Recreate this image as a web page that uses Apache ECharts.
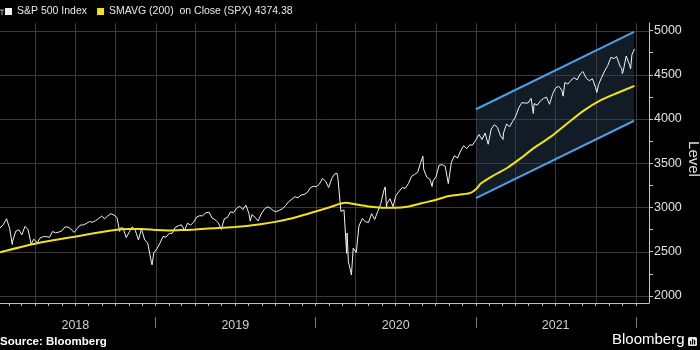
<!DOCTYPE html>
<html><head><meta charset="utf-8">
<script src="https://cdn.jsdelivr.net/npm/echarts@6/dist/echarts.min.js"></script>
<style>html,body{margin:0;padding:0;background:#000;}#c{width:700px;height:350px;}</style>
</head><body><div id="c"></div>
<script>
// ---------- data ----------
const spxDates = [
'2018-01-11','2018-01-12','2018-01-19','2018-01-26','2018-02-02','2018-02-08','2018-02-09','2018-02-16','2018-02-23','2018-03-02','2018-03-09','2018-03-16','2018-03-23','2018-03-29','2018-04-06','2018-04-13','2018-04-20','2018-04-27','2018-05-04','2018-05-11','2018-05-18','2018-05-25','2018-06-01','2018-06-08','2018-06-15','2018-06-22','2018-06-29','2018-07-06','2018-07-13','2018-07-20','2018-07-27','2018-08-03','2018-08-10','2018-08-17','2018-08-24','2018-08-31','2018-09-07','2018-09-14','2018-09-21','2018-09-28','2018-10-05','2018-10-11','2018-10-12','2018-10-19','2018-10-26','2018-11-02','2018-11-09','2018-11-16','2018-11-23','2018-11-30','2018-12-07','2018-12-14','2018-12-21','2018-12-24','2018-12-28',
'2019-01-04','2019-01-11','2019-01-18','2019-01-25','2019-02-01','2019-02-08','2019-02-15','2019-02-22','2019-03-01','2019-03-08','2019-03-15','2019-03-22','2019-03-29','2019-04-05','2019-04-12','2019-04-18','2019-04-26','2019-05-03','2019-05-10','2019-05-17','2019-05-24','2019-05-31','2019-06-07','2019-06-14','2019-06-21','2019-06-28','2019-07-05','2019-07-12','2019-07-19','2019-07-26','2019-08-02','2019-08-05','2019-08-09','2019-08-16','2019-08-23','2019-08-30','2019-09-06','2019-09-13','2019-09-20','2019-09-27','2019-10-04','2019-10-11','2019-10-18','2019-10-25','2019-11-01','2019-11-08','2019-11-15','2019-11-22','2019-11-29','2019-12-06','2019-12-13','2019-12-20','2019-12-27',
'2020-01-03','2020-01-10','2020-01-17','2020-01-24','2020-01-31','2020-02-07','2020-02-14','2020-02-19','2020-02-21','2020-02-28','2020-03-06','2020-03-12','2020-03-13','2020-03-16','2020-03-20','2020-03-23','2020-03-27','2020-04-03','2020-04-09','2020-04-17','2020-04-24','2020-05-01','2020-05-08','2020-05-15','2020-05-22','2020-05-29','2020-06-05','2020-06-08','2020-06-11','2020-06-12','2020-06-19','2020-06-26','2020-07-02','2020-07-10','2020-07-17','2020-07-24','2020-07-31','2020-08-07','2020-08-14','2020-08-21','2020-08-28','2020-09-02','2020-09-04','2020-09-11','2020-09-18','2020-09-23','2020-09-25','2020-10-02','2020-10-09','2020-10-16','2020-10-23','2020-10-30','2020-11-06','2020-11-13','2020-11-20','2020-11-27','2020-12-04','2020-12-11','2020-12-18','2020-12-24','2020-12-31',
'2021-01-08','2021-01-15','2021-01-22','2021-01-29','2021-02-05','2021-02-12','2021-02-19','2021-02-26','2021-03-04','2021-03-05','2021-03-12','2021-03-19','2021-03-26','2021-04-01','2021-04-09','2021-04-16','2021-04-23','2021-04-30','2021-05-07','2021-05-12','2021-05-14','2021-05-21','2021-05-28','2021-06-04','2021-06-11','2021-06-18','2021-06-25','2021-07-02','2021-07-09','2021-07-16','2021-07-19','2021-07-23','2021-07-30','2021-08-06','2021-08-13','2021-08-20','2021-08-27','2021-09-02','2021-09-10','2021-09-17','2021-09-24','2021-10-01','2021-10-04','2021-10-08','2021-10-15','2021-10-22','2021-10-29','2021-11-05','2021-11-12','2021-11-18','2021-11-26','2021-11-30','2021-12-01','2021-12-03','2021-12-10','2021-12-17','2021-12-20','2021-12-23','2021-12-29'
];
const spxValues = [
2767,2786,2810,2873,2762,2581,2620,2732,2747,2691,2786,2752,2588,2641,2604,2656,2670,2670,2663,2728,2713,2721,2735,2779,2780,2755,2718,2760,2801,2802,2819,2840,2833,2850,2875,2902,2872,2905,2930,2914,2885,2729,2767,2768,2658,2723,2781,2736,2633,2760,2633,2600,2417,2351,2486,
2532,2596,2671,2665,2707,2708,2776,2793,2804,2743,2822,2800,2834,2893,2907,2905,2940,2946,2881,2860,2826,2752,2873,2887,2950,2942,2990,3014,2977,3026,2932,2845,2919,2889,2847,2926,2979,3007,2992,2962,2952,2970,2986,3023,3067,3093,3120,3110,3141,3146,3169,3221,3240,
3235,3265,3330,3295,3226,3328,3380,3386,3338,2954,2972,2481,2711,2386,2305,2237,2541,2489,2790,2875,2837,2831,2930,2864,2955,3044,3194,3232,3002,3041,3098,3009,3130,3185,3225,3216,3271,3351,3373,3397,3508,3580,3427,3341,3319,3237,3298,3348,3477,3484,3465,3270,3510,3585,3558,3638,3699,3663,3709,3703,3756,
3825,3768,3841,3714,3887,3934,3907,3811,3768,3842,3943,3913,3975,4020,4129,4185,4180,4181,4233,4063,4174,4156,4204,4230,4247,4166,4281,4352,4370,4327,4258,4412,4395,4437,4468,4442,4509,4537,4459,4433,4455,4357,4300,4391,4471,4545,4605,4697,4683,4705,4595,4567,4513,4538,4712,4620,4568,4726,4793
];
const smaDates = ['2018-01-11','2018-04-01','2018-07-01','2018-10-01','2018-11-01','2018-12-01','2019-01-01','2019-02-01','2019-03-01','2019-04-01','2019-05-01','2019-06-01','2019-07-01','2019-08-01','2019-09-01','2019-10-01','2019-11-01','2019-12-01','2020-01-01','2020-02-01','2020-03-10','2020-04-01','2020-05-01','2020-06-01','2020-07-01','2020-08-01','2020-09-01','2020-10-01','2020-11-01','2020-12-01','2020-12-20','2021-01-01','2021-01-13','2021-02-12','2021-03-14','2021-04-13','2021-05-12','2021-06-21','2021-07-29','2021-09-04','2021-10-13','2021-11-21','2021-12-29'];
const smaValues = [2493,2590,2670,2745,2756,2757,2745,2740,2744,2752,2762,2770,2780,2792,2812,2837,2870,2910,2955,3000,3052,3035,3012,2998,2996,3012,3050,3085,3130,3148,3165,3205,3273,3367,3449,3555,3668,3800,3951,4095,4214,4297,4374];
const channelDates = ['2021-01-01','2021-12-28'];
const channelUpper = [4110, 4985];
const channelLower = [3105, 3980];
const yTickValues = [2000,2250,2500,2750,3000,3250,3500,3750,4000,4250,4500,4750,5000];
const yLabelValues = [2000,2500,3000,3500,4000,4500,5000];
const yearLabels = ['2018','2019','2020','2021'];
const yearMidDates = ['2018-07-02','2019-07-02','2020-07-02','2021-07-02'];
const yearStartDates = ['2019-01-01','2020-01-01','2021-01-01','2022-01-01'];
const quarterDates = ['2018-04-01','2018-07-01','2018-10-01','2019-01-01','2019-04-01','2019-07-01','2019-10-01','2020-01-01','2020-04-01','2020-07-01','2020-10-01','2021-01-01','2021-04-01','2021-07-01','2021-10-01','2022-01-01'];
const seriesNames = ['S&P 500 Index', 'SMAVG (200)  on Close (SPX) 4374.38'];
const axisTitle = 'Level';
const axisStart = '2018-01-11', axisEnd = '2022-01-31';
const yMin = 1920, yMax = 5085;

// ---------- helpers ----------
const T = s => new Date(s + 'T00:00:00').getTime();
const monthTicks = [];
for (let y = 2018; y <= 2022; y++) for (let m = 1; m <= 12; m++) {
  const t = T(y + '-' + String(m).padStart(2,'0') + '-01');
  if (t > T(axisStart) && t < T(axisEnd)) monthTicks.push(t);
}
const yearMidT = yearMidDates.map(T);
const FONT = '"Liberation Sans", Arial, sans-serif';
const GRID_STYLE = {stroke: '#3a3a3a', lineWidth: 1, fill: null};

const chart = echarts.init(document.getElementById('c'), null, {renderer:'canvas'});
chart.setOption({
  backgroundColor: '#000',
  animation: false,
  grid: {left: 0, right: 51, top: 23, bottom: 47, containLabel: false, outerBoundsMode: 'none'},
  legend: {
    left: 5, top: 6, padding: 0, itemWidth: 7, itemHeight: 7, itemGap: 10, icon: 'rect',
    textStyle: {color: '#e8e8e8', fontSize: 10.5, fontFamily: FONT},
    data: seriesNames
  },
  xAxis: [{
    type: 'value', min: T(axisStart), max: T(axisEnd), position: 'bottom',
    axisLine: {show: true, onZero: false, lineStyle: {color: '#c0c0c0', width: 1}},
    axisTick: {show: true, length: 3, customValues: monthTicks, lineStyle: {color: '#c0c0c0'}},
    axisLabel: {show: false},
    splitLine: {show: false}
  }, {
    type: 'value', min: T(axisStart), max: T(axisEnd), position: 'bottom', offset: 14,
    axisLine: {show: false, onZero: false},
    axisTick: {show: true, length: 11, customValues: yearStartDates.map(T), lineStyle: {color: '#777'}},
    axisLabel: {show: true, customValues: yearMidT, margin: 2, color: '#cfcfcf', fontSize: 12.5, fontFamily: FONT,
      formatter: v => { const i = yearMidT.indexOf(v); return i >= 0 ? yearLabels[i] : ''; }},
    splitLine: {show: false}
  }],
  yAxis: {
    type: 'value', position: 'right', min: yMin, max: yMax,
    axisLine: {show: true, onZero: false, lineStyle: {color: '#c8c8c8'}},
    axisTick: {show: true, length: 4, customValues: yTickValues, lineStyle: {color: '#c8c8c8'}},
    axisLabel: {customValues: yLabelValues, margin: 5, color: '#e0e0e0', fontSize: 12.5, fontFamily: FONT,
      formatter: v => String(v)},
    splitLine: {show: false}
  },
  series: [
    {
      name: 'hgrid', type: 'custom', z: 2, silent: true,
      data: yLabelValues.map(v => [T(axisStart), v]),
      renderItem: (params, api) => {
        const cs = params.coordSys;
        const y = Math.round(api.coord([api.value(0), api.value(1)])[1]) + 0.5;
        return {type: 'line', shape: {x1: cs.x, y1: y, x2: cs.x + cs.width, y2: y}, style: GRID_STYLE};
      }
    },
    {
      name: 'vgrid', type: 'custom', z: 2, silent: true,
      data: quarterDates.map(d => [T(d), yLabelValues[0]]),
      renderItem: (params, api) => {
        const cs = params.coordSys;
        const x = Math.round(api.coord([api.value(0), api.value(1)])[0]) + 0.5;
        return {type: 'line', shape: {x1: x, y1: cs.y, x2: x, y2: cs.y + cs.height}, style: GRID_STYLE};
      }
    },
    {
      name: 'channel', type: 'custom', z: 1, silent: true,
      data: [[T(channelDates[0]), channelLower[0]]],
      renderItem: (params, api) => {
        const pts = [
          api.coord([T(channelDates[0]), channelUpper[0]]),
          api.coord([T(channelDates[1]), channelUpper[1]]),
          api.coord([T(channelDates[1]), channelLower[1]]),
          api.coord([T(channelDates[0]), channelLower[0]])
        ];
        return {type: 'polygon', shape: {points: pts}, style: {fill: '#121c26'}};
      }
    },
    {
      name: 'upper', type: 'line', z: 3, symbol: 'none', silent: true,
      data: channelDates.map((d,i) => [T(d), channelUpper[i]]),
      lineStyle: {color: '#4f9fe6', width: 2}
    },
    {
      name: 'lower', type: 'line', z: 3, symbol: 'none', silent: true,
      data: channelDates.map((d,i) => [T(d), channelLower[i]]),
      lineStyle: {color: '#4f9fe6', width: 2}
    },
    {
      name: seriesNames[0], type: 'line', z: 4, symbol: 'none', color: '#f2f2f2',
      data: spxDates.map((d,i) => [T(d), spxValues[i]]),
      lineStyle: {color: '#f2f2f2', width: 1}
    },
    {
      name: seriesNames[1], type: 'line', z: 5, symbol: 'none', color: '#f2e21c', smooth: 0.3,
      data: smaDates.map((d,i) => [T(d), smaValues[i]]),
      lineStyle: {color: '#f2e21c', width: 2}
    }
  ],
  graphic: [
    {type: 'polyline', shape: {points: [[0,10],[4,10]]}, style: {stroke: '#aaa', lineWidth: 1}},
    {type: 'polyline', shape: {points: [[2,10],[2,15]]}, style: {stroke: '#aaa', lineWidth: 1}},
    {type: 'text', x: 693, y: 159, rotation: -Math.PI / 2,
      style: {text: axisTitle, fill: '#e0e0e0', font: '15px ' + FONT, align: 'center', verticalAlign: 'middle'}},
    {type: 'text', x: 0, y: 336, style: {text: 'Source: Bloomberg', fill: '#ffffff', font: 'bold 11.5px ' + FONT}},
    {type: 'text', x: 612, y: 332, style: {text: 'Bloomberg', fill: '#ffffff', font: '15px ' + FONT}},
    {type: 'rect', shape: {x: 688, y: 337, width: 9, height: 9, r: 1.5}, style: {fill: '#e8e8e8'}},
    {type: 'rect', shape: {x: 690, y: 341, width: 1.2, height: 3.5}, style: {fill: '#000'}},
    {type: 'rect', shape: {x: 692, y: 339, width: 1.2, height: 5.5}, style: {fill: '#000'}},
    {type: 'rect', shape: {x: 694, y: 340, width: 1.2, height: 4.5}, style: {fill: '#000'}}
  ]
});
</script></body></html>
